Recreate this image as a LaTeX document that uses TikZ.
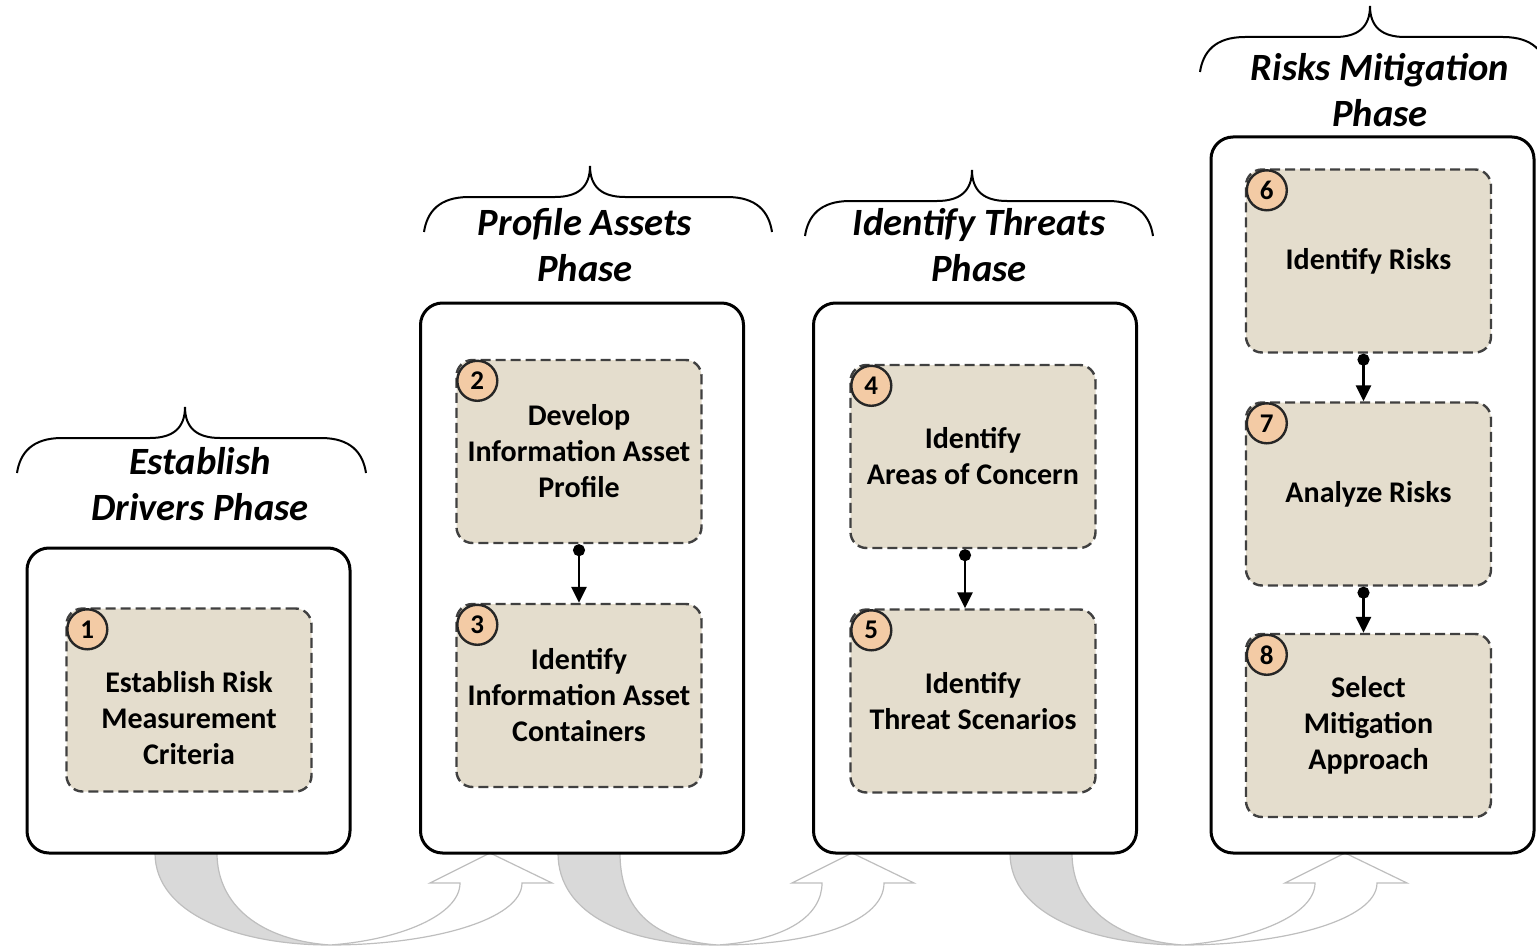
\documentclass[tikz,border=0pt]{standalone}
\usepackage{fontspec}
\setmainfont{Carlito}
\usetikzlibrary{arrows.meta}
\definecolor{stepfill}{RGB}{228,221,205}
\definecolor{numfill}{RGB}{243,203,165}
\definecolor{ribbon}{RGB}{190,190,190}

\begin{document}
\begin{tikzpicture}[x=0.5pt, y=-0.5pt,
        phase/.style={draw, line width=1.5pt, rounded corners=11pt, fill=white, minimum width=161.5pt},
        stepbox/.style={draw=black!75, dash pattern=on 5pt off 2.5pt, line width=1.2pt, rounded corners=8pt,
            fill=stepfill, minimum width=122.5pt, minimum height=91.5pt, align=center,
            font=\bfseries\fontsize{15}{18}\selectfont},
        steplabel/.style={align=center, yshift=-9pt, font=\bfseries\fontsize{15}{18}\selectfont},
        num/.style={circle, draw=black!85, line width=1.2pt, fill=numfill, minimum size=20pt, inner sep=0pt,
            font=\bfseries\fontsize{13.5}{15}\selectfont},
        title/.style={align=center, font=\bfseries\itshape\fontsize{19.3}{23}\selectfont},
        link/.style={line width=1.4pt, {Circle[length=6pt]}-{Triangle[length=8pt,width=7.5pt]}}]
    \useasboundingbox (0,0) rectangle (1537,947);

    % curved arrows between the phases
    \foreach \sa/\bt/\tp in {155/330/490, 558/718/852, 1010/1183/1345} {
        \draw[ribbon, fill=black!15, line width=0.6pt] (\sa,853) .. controls (\sa,915) and ({\bt-90},945) .. (\bt,945)
            .. controls ({\bt-70},940) and ({\sa+62},905) .. ({\sa+62},853) -- cycle;
        \draw[ribbon, fill=white, line width=0.6pt] (\bt,945) .. controls ({\bt+100},945) and ({\tp+32},920) .. ({\tp+32},883)
            -- ({\tp+62},883) -- (\tp,853) -- ({\tp-60},883) -- ({\tp-30},883)
            .. controls ({\tp-30},915) and ({\bt+70},940) .. (\bt,945) -- cycle;
    }

    % phases
    \node[phase, minimum height=152.5pt] (ph1) at (188.5,700.5) {};
    \node[phase, minimum height=275pt] (ph2) at (582,578) {};
    \node[phase, minimum height=275pt] (ph3) at (975,578) {};
    \node[phase, minimum height=358pt] (ph4) at (1372.5,495) {};

    % steps
    \node[stepbox, label={[steplabel]center:Establish Risk\\Measurement\\Criteria}] (s1) at (189,700) {};
    \node[stepbox] (s2) at (579,451.5) {Develop\\Information Asset\\Profile};
    \node[stepbox] (s3) at (579,695.5) {Identify\\Information Asset\\Containers};
    \node[stepbox] (s4) at (973,456.5) {Identify\\Areas of Concern};
    \node[stepbox] (s5) at (973,701) {Identify\\Threat Scenarios};
    \node[stepbox] (s6) at (1368.5,261) {Identify Risks};
    \node[stepbox] (s7) at (1368.5,494) {Analyze Risks};
    \node[stepbox] (s8) at (1368.5,725.5) {Select\\Mitigation\\Approach};

    \foreach \i in {1,...,8}
        \node[num] (n\i) at ([xshift=11pt,yshift=-11pt]s\i.north west) {\i};

    \draw[link] (s2.south) -- (s3.north);
    \draw[link] ([xshift=-4pt]s4.south) -- ([xshift=-4pt]s5.north);
    \draw[link] ([xshift=-2.5pt]s6.south) -- ([xshift=-2.5pt]s7.north);
    \draw[link] ([xshift=-2.5pt]s7.south) -- ([xshift=-2.5pt]s8.north);

    % braces and phase names
    \foreach \xa/\xb/\xt/\yb in {17/366/185/473, 424/772/590/232, 805/1153/972/236, 1200/1548/1370/72}
        \draw[line width=1pt] (\xa,\yb) .. controls ({\xa+3},{\yb-20}) and ({\xa+15},{\yb-35}) .. ({\xa+45},{\yb-35})
            -- ({\xt-35},{\yb-35}) .. controls ({\xt-12},{\yb-35}) and (\xt,{\yb-45}) .. (\xt,{\yb-66})
            .. controls (\xt,{\yb-45}) and ({\xt+12},{\yb-35}) .. ({\xt+35},{\yb-35})
            -- ({\xb-45},{\yb-35}) .. controls ({\xb-15},{\yb-35}) and ({\xb-3},{\yb-20}) .. (\xb,\yb);

    \node[title] (t1) at (200,484) {Establish\\Drivers Phase};
    \node[title] (t2) at (585,245) {Profile Assets\\Phase};
    \node[title] (t3) at (979,245) {Identify Threats\\Phase};
    \node[title] (t4) at (1380,90) {Risks Mitigation\\Phase};
\end{tikzpicture}
\end{document}
